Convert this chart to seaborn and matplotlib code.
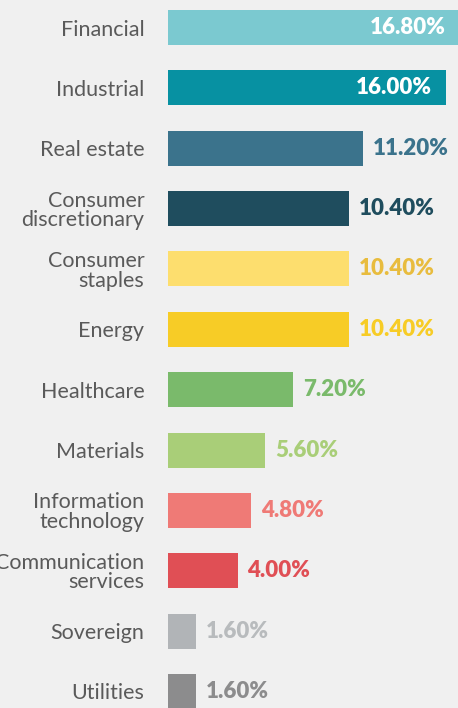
import matplotlib
matplotlib.use("Agg")
import matplotlib.pyplot as plt
import seaborn as sns
import pandas as pd

categories = ["Financial", "Industrial", "Real estate", "Consumer\ndiscretionary",
              "Consumer\nstaples", "Energy", "Healthcare", "Materials",
              "Information\ntechnology", "Communication\nservices", "Sovereign", "Utilities"]
values = [16.8, 16.0, 11.2, 10.4, 10.4, 10.4, 7.2, 5.6, 4.8, 4.0, 1.6, 1.6]
value_labels = ["16.80%", "16.00%", "11.20%", "10.40%", "10.40%", "10.40%",
                "7.20%", "5.60%", "4.80%", "4.00%", "1.60%", "1.60%"]
bar_colors = ["#7BC9D0", "#0791A2", "#3B738C", "#1F4D5E", "#FDDE6E", "#F7CC26",
              "#7ABA6B", "#A9CE78", "#EF7A76", "#E04F55", "#B1B4B7", "#8C8C8D"]
text_colors = ["#FFFFFF", "#FFFFFF", "#3B738C", "#1F4D5E", "#E8BC3E", "#F7CC26",
               "#7ABA6B", "#A9CE78", "#EF7A76", "#E04F55", "#B8BBBD", "#8C8C8D"]

df = pd.DataFrame({"category": categories, "value": values})

sns.set_theme(style="white")
plt.rcParams["font.family"] = ["Lato", "DejaVu Sans"]

W, H = 458, 708
fig = plt.figure(figsize=(W / 100, H / 100), dpi=100)
bg = "#F0F0F0"
fig.patch.set_facecolor(bg)

left_px = 168
ax = fig.add_axes([left_px / W, 0, (W - left_px) / W, 1])
ax.set_facecolor(bg)

sns.barplot(data=df, y="category", x="value", hue="category", palette=bar_colors,
            orient="h", width=0.58, legend=False, ax=ax, saturation=1, linewidth=0)

px_per_unit = 17.375
ax.set_xlim(0, (W - left_px) / px_per_unit)
row = 60.36
ax.set_ylim(11 + 16.5 / row, -27.5 / row)

for s in ax.spines.values():
    s.set_visible(False)
ax.set_xticks([])
ax.set_yticks(range(len(categories)))
ax.set_yticklabels(categories, fontsize=15.5, color="#5A5A5A", linespacing=0.98,
                   ha="right")
ax.tick_params(axis="y", length=0, pad=17)
ax.set_xlabel("")
ax.set_ylabel("")

for i, (v, lab, tc) in enumerate(zip(values, value_labels, text_colors)):
    if i < 2:
        ax.annotate(lab, xy=(v, i), xytext=(-14, 0), textcoords="offset pixels",
                    ha="right", va="center", fontsize=16, fontweight="heavy",
                    color=tc, annotation_clip=False)
    else:
        ax.annotate(lab, xy=(v, i), xytext=(10, 0), textcoords="offset pixels",
                    ha="left", va="center", fontsize=16, fontweight="heavy",
                    color=tc)

fig.savefig("out.png", dpi=100, facecolor=bg)
